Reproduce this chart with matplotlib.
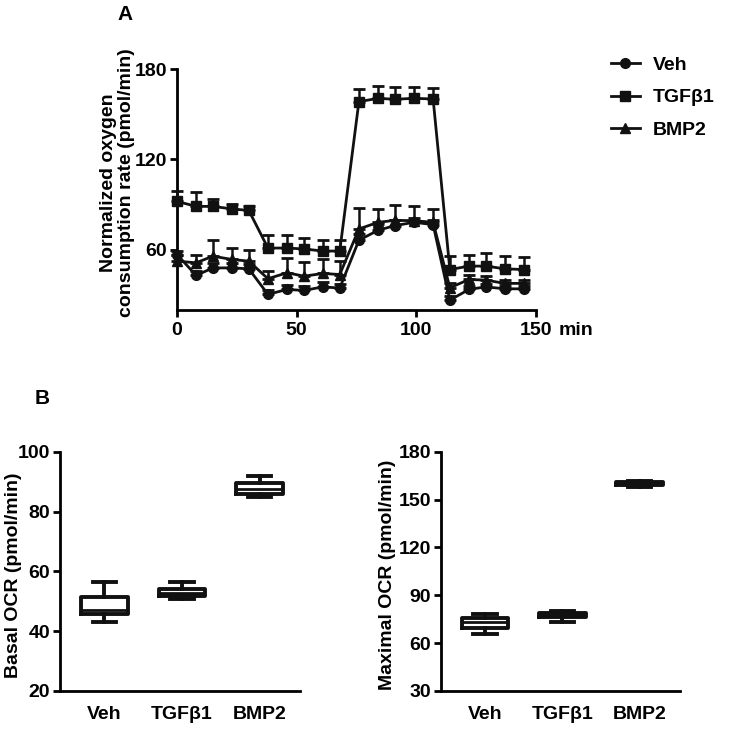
import numpy as np
import matplotlib
matplotlib.use('Agg')
import matplotlib.pyplot as plt
from matplotlib.lines import Line2D

plt.rcParams['font.family'] = ['Liberation Sans', 'DejaVu Sans']
plt.rcParams['font.weight'] = 'bold'
plt.rcParams['axes.labelweight'] = 'bold'

FS = 14

# panel A: time course
time_min = [0, 8, 15, 23, 30, 38, 46, 53, 61, 68, 76, 84, 91, 99, 107, 114, 122, 129, 137, 145]
veh = [56.7, 42.8, 47.8, 47.8, 47.2, 30.2, 33.5, 32.8, 35.2, 34.4,
       66.2, 72.8, 75.9, 78.1, 76.6, 26.4, 33.5, 35.2, 33.9, 33.9]
veh_err = [2.5, 3, 3, 3, 3, 3, 3, 3, 3, 3, 4, 4, 4, 3, 3, 3, 2, 2, 2, 2]
tgf = [92, 88.7, 88.7, 87, 86, 61, 61, 60.4, 59, 59,
       158.3, 160.5, 159.9, 160.5, 160.1, 46.7, 49, 49, 47.2, 46.7]
tgf_err = [6.7, 9.3, 5, 3.5, 2.7, 9, 8.5, 7.3, 7.2, 7.2,
           8.2, 8.2, 7.9, 7.8, 7.1, 9.3, 7.7, 8.8, 8.8, 8.4]
bmp = [52.3, 51.2, 55.6, 53.4, 52.3, 40.6, 44.6, 42.3, 44.1, 43.4,
       73.7, 78.1, 79.4, 79.2, 78.1, 34.6, 40.1, 39.7, 37.5, 37.5]
bmp_err = [4, 5, 10.6, 7.7, 7.3, 5, 10, 9.3, 9.3, 9,
           14, 9, 10.4, 9.5, 8.9, 3, 3, 3, 2, 2]

# panel B: box plot summaries (whisker low, q1, median, q3, whisker high)
groups = ['Veh', 'TGF\u03b21', 'BMP2']
basal_stats = [
    (43.2, 45.6, 47.1, 51.4, 56.3),
    (50.8, 51.8, 52.9, 54.1, 56.3),
    (84.7, 85.8, 87.7, 89.6, 92.0),
]
maximal_stats = [
    (66.0, 69.7, 73.1, 76.0, 78.5),
    (73.3, 76.4, 77.8, 79.2, 80.0),
    (158.0, 159.1, 160.0, 161.2, 161.6),
]

fig = plt.figure(figsize=(7.35, 7.35), dpi=100)


def style_axes(ax):
    for s in ['top', 'right']:
        ax.spines[s].set_visible(False)
    for s in ['left', 'bottom']:
        ax.spines[s].set_linewidth(2)
    ax.tick_params(width=2, length=5, labelsize=FS, pad=2)
    for lab in ax.get_xticklabels() + ax.get_yticklabels():
        lab.set_fontweight('bold')


# ---- panel A ----
axA = fig.add_axes([0.2408, 0.5786, 0.4885, 0.3275])
series = [(veh, veh_err, 'o', 'Veh'), (tgf, tgf_err, 's', 'TGF\u03b21'), (bmp, bmp_err, '^', 'BMP2')]
for vals, err, mk, lab in series:
    vals = np.array(vals)
    err = np.array(err)
    axA.errorbar(time_min, vals, yerr=[np.zeros_like(err), err], fmt='-', marker=mk,
                 color='#111111', lw=2, ms=7, capsize=4, capthick=2, elinewidth=1.8,
                 label=lab, clip_on=False, zorder=3)
axA.set_xlim(0, 150)
axA.set_ylim(20, 180)
axA.set_xticks([0, 50, 100, 150])
axA.set_yticks([60, 120, 180])
axA.set_ylabel('Normalized oxygen\nconsumption rate (pmol/min)', fontsize=FS, linespacing=1.05)
axA.yaxis.set_label_coords(-0.117, 0.527)
style_axes(axA)
axA.tick_params(axis='x', pad=4)
axA.annotate('min', xy=(1, 0), xycoords='axes fraction', xytext=(16, -15),
             textcoords='offset points', fontsize=FS, fontweight='bold', ha='left', va='center')

handles = [Line2D([0], [0], color='#111111', lw=2, marker=m, ms=7) for m in ['o', 's', '^']]
fig.legend(handles, ['Veh', 'TGF\u03b21', 'BMP2'], loc='upper left',
           bbox_to_anchor=(0.808, 0.9475), frameon=False,
           handlelength=1.45, labelspacing=0.78, handletextpad=0.7,
           prop={'weight': 'bold', 'size': FS})

fig.text(125 / 735, 1 - 14 / 735, 'A', fontsize=15, fontweight='bold', ha='center', va='center')
fig.text(42 / 735, 1 - 398 / 735, 'B', fontsize=15, fontweight='bold', ha='center', va='center')


# ---- panel B ----
def draw_box(ax, stats, ylim, yticks, ylabel, lab_x):
    bxp = []
    for name, (lo, q1, med, q3, hi) in zip(groups, stats):
        bxp.append({'label': name, 'whislo': lo, 'q1': q1, 'med': med, 'q3': q3,
                    'whishi': hi, 'fliers': []})
    ax.bxp(bxp, positions=[1, 2, 3], widths=0.6, showfliers=False,
           boxprops=dict(color='#111111', lw=2.8),
           medianprops=dict(color='#111111', lw=2),
           whiskerprops=dict(color='#111111', lw=2.8),
           capprops=dict(color='#111111', lw=2.8))
    ax.set_xlim(0.43, 3.52)
    ax.set_ylim(*ylim)
    ax.set_yticks(yticks)
    ax.set_ylabel(ylabel, fontsize=FS)
    ax.yaxis.set_label_coords(lab_x, 0.485)
    style_axes(ax)
    ax.tick_params(axis='x', length=0, pad=11)


axB1 = fig.add_axes([0.0816, 0.0599, 0.3265, 0.3255])
draw_box(axB1, basal_stats, (20, 100), [20, 40, 60, 80, 100], 'Basal OCR (pmol/min)', -0.16)

axB2 = fig.add_axes([0.6, 0.0599, 0.325, 0.3255])
draw_box(axB2, maximal_stats, (30, 180), [30, 60, 90, 120, 150, 180], 'Maximal OCR (pmol/min)', -0.19)

fig.savefig('out.png', dpi=100)
